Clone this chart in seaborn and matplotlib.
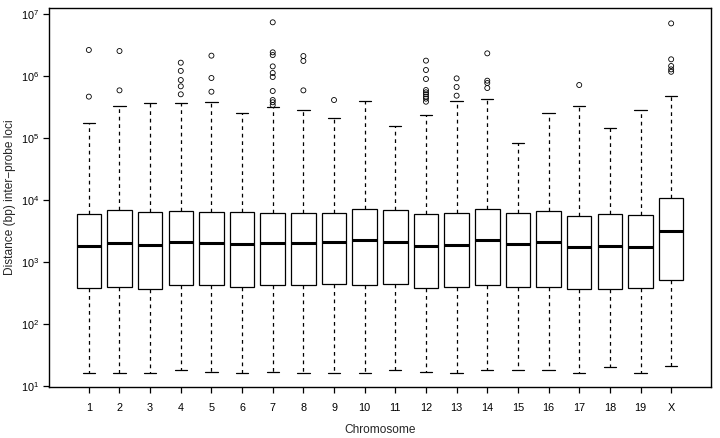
import numpy as np
import pandas as pd
import matplotlib
matplotlib.use("Agg")
import matplotlib.pyplot as plt
import seaborn as sns

chroms = [str(i) for i in range(1, 20)] + ["X"]
whislo = [16, 16, 16, 18, 17, 16, 17, 16, 16, 16, 18, 17, 16, 18, 18, 18, 16, 20, 16, 21]
q1 = [377, 391, 367, 421, 421, 391, 431, 421, 442, 426, 442, 377, 391, 421, 391, 400, 362, 372, 377, 513]
med = [1830, 2000, 1900, 2080, 2020, 1970, 2020, 2020, 2080, 2260, 2100, 1790, 1900, 2240, 1950, 2100, 1730, 1830, 1770, 3200]
q3 = [6010, 6810, 6490, 6730, 6490, 6320, 6100, 6250, 6250, 7240, 6810, 5880, 6250, 7160, 6250, 6730, 5590, 6010, 5660, 10900]
whishi = [173000, 332000, 371000, 362000, 381000, 250000, 320000, 283000, 207000, 391000,
          156000, 235000, 391000, 426000, 82000, 250000, 328000, 145000, 286000, 475000]

outlier_chrom = (["1"] * 2 + ["2"] * 2 + ["4"] * 5 + ["5"] * 3 + ["7"] * 10 + ["8"] * 3 + ["9"]
                 + ["12"] * 9 + ["13"] * 3 + ["14"] * 4 + ["17"] + ["X"] * 5)
outlier_value = [2.63e6, 4.65e5,
                 2.53e6, 5.87e5,
                 1.64e6, 1.21e6, 8.61e5, 6.82e5, 5.07e5,
                 2.13e6, 9.29e5, 5.58e5,
                 7.35e6, 2.41e6, 2.18e6, 1.43e6, 1.12e6, 9.64e5, 5.73e5, 4.10e5, 3.77e5, 3.40e5,
                 2.10e6, 1.75e6, 5.87e5,
                 4.10e5,
                 1.77e6, 1.25e6, 8.95e5, 5.94e5, 5.46e5, 5.07e5, 4.65e5, 4.31e5, 3.85e5,
                 9.16e5, 6.65e5, 4.82e5,
                 2.32e6, 8.41e5, 7.71e5, 6.40e5,
                 7.16e5,
                 7.06e6, 1.86e6, 1.45e6, 1.28e6, 1.17e6]

sns.set_style("ticks")
plt.rcParams["font.family"] = ["Liberation Sans", "DejaVu Sans"]

rows = []
for c, a, b, m, d, e in zip(chroms, whislo, q1, med, q3, whishi):
    for v in (a, b, m, d, e):
        rows.append((c, v))
box_df = pd.DataFrame(rows, columns=["chrom", "value"])
out_df = pd.DataFrame({"chrom": outlier_chrom, "value": outlier_value})

fig = plt.figure(figsize=(7.2, 4.38), dpi=100)
ax = fig.add_axes([49 / 720, 1 - 387 / 438, (711 - 49) / 720, (387 - 8) / 438])

sns.boxplot(data=box_df, x="chrom", y="value", order=chroms, log_scale=True,
            whis=(0, 100), width=0.8, color="white", linecolor="black", linewidth=0.9,
            fill=True, ax=ax,
            whiskerprops=dict(linestyle=(0, (3, 3)), linewidth=0.9),
            capprops=dict(linewidth=0.9),
            medianprops=dict(linewidth=2.2, color="black"))

n_before = len(ax.collections)
sns.stripplot(data=out_df, x="chrom", y="value", order=chroms, jitter=False,
              color="black", size=3.6, ax=ax)
for coll in ax.collections[n_before:]:
    coll.set_facecolor("none")
    coll.set_edgecolor("black")
    coll.set_linewidth(0.6)

ax.set_yscale("log")
ax.set_ylim(10 ** 0.984, 10 ** 7.097)
ax.set_xlim(-1.3, 20.3)
ax.set_yticks([10 ** k for k in range(1, 8)])
ax.yaxis.set_minor_locator(matplotlib.ticker.NullLocator())
ax.yaxis.set_major_formatter(matplotlib.ticker.LogFormatterSciNotation())
ax.set_xticks(range(len(chroms)))
ax.set_xticklabels(chroms)

for s in ax.spines.values():
    s.set_visible(True)
    s.set_linewidth(1.0)
    s.set_color("black")

ax.tick_params(axis="both", direction="out", length=4.3, width=0.9, colors="black",
               labelsize=7.8)
ax.tick_params(axis="x", pad=7)
ax.tick_params(axis="y", pad=3)

ax.set_xlabel("Chromosome", fontsize=8.6, labelpad=8)
ax.set_ylabel("Distance (bp) inter\u2212probe loci", fontsize=8.6, labelpad=3)

fig.savefig("out.png", dpi=100)
